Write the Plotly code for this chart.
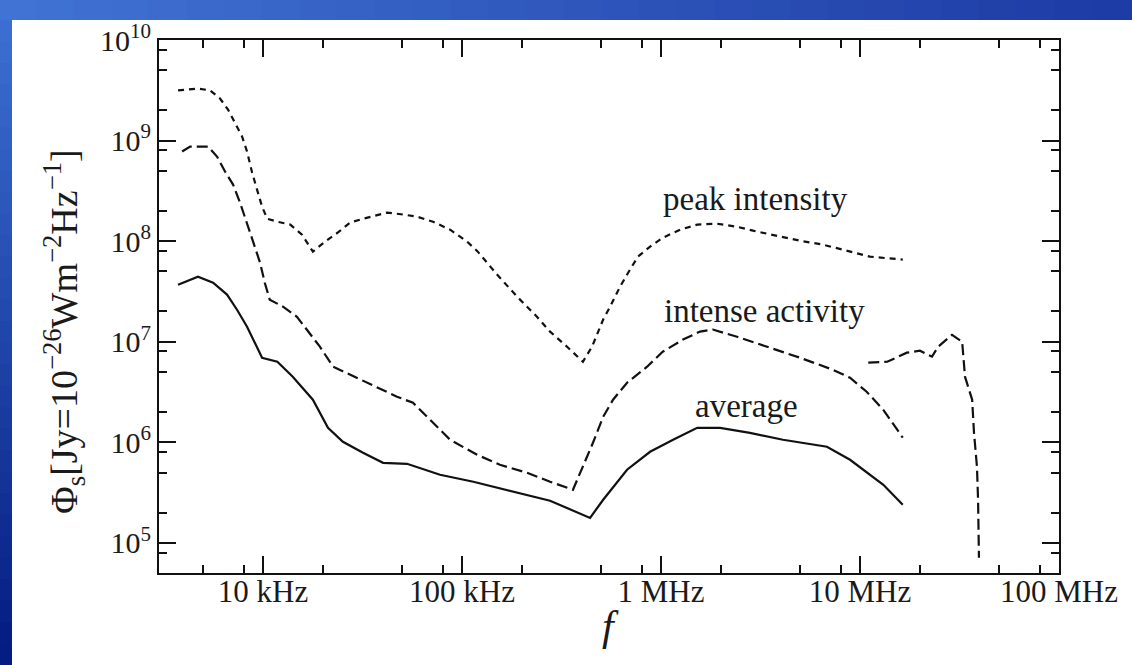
import numpy as np
import plotly.graph_objects as go

# ---------------- data (frequency in kHz, flux density) ----------------
peak_f = [3.74, 4.71, 5.42, 6.08, 6.67, 7.23, 7.84, 8.31, 8.81, 9.33, 9.89, 10.5, 11.8, 13.7,
          15.7, 17.8, 20.5, 23.8, 27.4, 31.8, 42.0, 50.5, 59.4, 71.5, 87.1, 106, 120, 150, 189,
          238, 277, 337, 405, 450, 512, 555, 622, 698, 766, 881, 1020, 1250, 1520, 1910, 2410,
          2900, 3830, 4990, 6510, 8610, 11200, 16400]
peak_v = [3.15e9, 3.29e9, 3.15e9, 2.62e9, 2.03e9, 1.51e9, 1.10e9, 7.78e8, 4.81e8, 3.25e8, 2.20e8,
          1.67e8, 1.56e8, 1.46e8, 1.16e8, 7.86e7, 9.89e7, 1.22e8, 1.53e8, 1.67e8, 1.92e8, 1.84e8,
          1.75e8, 1.56e8, 1.30e8, 9.89e7, 7.86e7, 4.65e7, 2.81e7, 1.77e7, 1.26e7, 8.92e6, 6.32e6,
          8.92e6, 1.66e7, 2.23e7, 3.52e7, 5.20e7, 7.01e7, 8.81e7, 1.08e8, 1.30e8, 1.46e8, 1.49e8,
          1.39e8, 1.27e8, 1.13e8, 1.01e8, 9.23e7, 8.04e7, 7.01e7, 6.55e7]

intense_f = [3.92, 4.30, 5.29, 5.87, 6.44, 7.07, 7.66, 8.31, 8.91, 9.66, 10.2, 10.8, 12.6, 14.8,
             16.6, 19.3, 22.5, 27.4, 37.4, 47.1, 56.7, 71.5, 87.1, 119, 155, 212, 277, 361, 405,
             455, 512, 574, 675, 851, 1020, 1290, 1570, 1820, 2410, 3410, 4990, 7310, 8910,
             10800, 13100, 16400]
intense_v = [7.78e8, 8.71e8, 8.71e8, 6.93e8, 4.92e8, 3.65e8, 2.42e8, 1.53e8, 9.89e7, 6.11e7,
             3.86e7, 2.62e7, 2.23e7, 1.77e7, 1.32e7, 8.92e6, 5.64e6, 4.70e6, 3.49e6, 2.84e6,
             2.47e6, 1.56e6, 1.06e6, 7.51e5, 5.97e5, 4.97e5, 4.05e5, 3.37e5, 5.70e5, 9.89e5,
             1.79e6, 2.65e6, 3.91e6, 5.64e6, 7.95e6, 1.05e7, 1.26e7, 1.32e7, 1.12e7, 8.92e6,
             6.93e6, 5.26e6, 4.38e6, 3.18e6, 2.10e6, 1.11e6]

dam_f = [11000, 13700, 17200, 20000, 23000, 24700, 29000, 32600, 33700, 36600, 37400, 38700,
         39200, 39600]
dam_v = [6.18e6, 6.32e6, 7.78e6, 8.14e6, 7.10e6, 8.92e6, 1.17e7, 1.0e7, 4.49e6, 2.65e6, 1.24e6,
         5.70e5, 2.68e5, 7.10e4]

avg_f = [3.74, 4.71, 5.61, 6.59, 7.40, 8.31, 9.89, 11.8, 14.1, 17.8, 21.2, 25.2, 31.8, 40.1, 52.9,
         77.5, 114, 168, 277, 440, 512, 675, 881, 1150, 1520, 1980, 2800, 4100, 6820, 8910,
         13100, 16400]
avg_v = [3.69e7, 4.43e7, 3.86e7, 2.94e7, 2.08e7, 1.41e7, 6.93e6, 6.32e6, 4.49e6, 2.65e6, 1.39e6,
         1.01e6, 7.86e5, 6.25e5, 6.11e5, 4.75e5, 4.05e5, 3.37e5, 2.62e5, 1.77e5, 2.68e5, 5.33e5,
         8.04e5, 1.06e6, 1.39e6, 1.39e6, 1.24e6, 1.06e6, 9.02e5, 6.70e5, 3.78e5, 2.39e5]

x_tickvals = [1e4, 1e5, 1e6, 1e7, 1e8]
x_ticktext = ["10 kHz", "100 kHz", "1 MHz", "10 MHz", "100 MHz"]
y_exponents = [5, 6, 7, 8, 9, 10]

labels = ["peak intensity", "intense activity", "average"]
x_title = "<i>f</i>"
y_title = "Φ<sub>s</sub>[Jy=10<sup>−26</sup>Wm<sup>−2</sup>Hz<sup>−1</sup>]"

# ---------------- figure ----------------
W, H = 1132, 665
ML, MR, MT, MB = 159, 73, 40, 92
pw, ph = W - ML - MR, H - MT - MB

def khz(a):
    return [v * 1e3 for v in a]

def px2paper_x(px):
    return (px - ML) / pw

def px2paper_y(py):
    return (H - MB - py) / ph

line_col = "#111111"
fig = go.Figure()
fig.add_trace(go.Scatter(x=khz(peak_f), y=peak_v, mode="lines",
                         line=dict(color=line_col, width=2.2, dash="6px,5px")))
fig.add_trace(go.Scatter(x=khz(intense_f), y=intense_v, mode="lines",
                         line=dict(color=line_col, width=2.2, dash="11px,5px")))
fig.add_trace(go.Scatter(x=khz(dam_f), y=dam_v, mode="lines",
                         line=dict(color=line_col, width=2.2, dash="11px,5px")))
fig.add_trace(go.Scatter(x=khz(avg_f), y=avg_v, mode="lines",
                         line=dict(color=line_col, width=2.2)))

# minor ticks at 2, 5, 8 of each decade
x_minor = [m * 10 ** d for d in range(3, 8) for m in (2, 5, 8)]
y_minor = [m * 10 ** d for d in range(4, 10) for m in (2, 5, 8)]

font_fam = "Liberation Serif, Times New Roman, serif"
txt_col = "#1a1a1a"

fig.update_xaxes(type="log", range=[np.log10(3000), 8.0], automargin=False,
                 tickmode="array", tickvals=x_tickvals, ticktext=x_ticktext,
                 ticks="inside", ticklen=17, tickwidth=2, tickcolor="#111",
                 showline=True, linecolor="#111", linewidth=2, mirror="allticks",
                 showgrid=False, zeroline=False, ticklabelstandoff=-10,
                 tickfont=dict(family=font_fam, size=31, color=txt_col),
                 minor=dict(tickvals=x_minor, ticks="inside", ticklen=8, tickwidth=2,
                            tickcolor="#111", showgrid=False))
fig.update_yaxes(type="log", range=[4.70, 10.0], automargin=False,
                 tickmode="array", tickvals=[10 ** e for e in y_exponents],
                 ticktext=[f"10<sup>{e}</sup>" for e in y_exponents],
                 ticks="inside", ticklen=17, tickwidth=2, tickcolor="#111",
                 showline=True, linecolor="#111", linewidth=2, mirror="allticks",
                 showgrid=False, zeroline=False,
                 tickfont=dict(family=font_fam, size=30, color=txt_col),
                 minor=dict(tickvals=y_minor, ticks="inside", ticklen=8, tickwidth=2,
                            tickcolor="#111", showgrid=False))

# axis titles as annotations for exact placement
fig.add_annotation(xref="paper", yref="paper", x=px2paper_x(610), y=px2paper_y(626),
                   text=x_title, showarrow=False, xanchor="center", yanchor="middle",
                   font=dict(family=font_fam, size=42, color=txt_col))
fig.add_annotation(xref="paper", yref="paper", x=px2paper_x(64), y=px2paper_y(332),
                   text=y_title, showarrow=False, xanchor="center", yanchor="middle",
                   textangle=-90, font=dict(family=font_fam, size=38, color=txt_col))

# curve labels (positions in log units)
ann_pos = [(2.97e6, 10 ** 8.42), (3.3e6, 10 ** 7.31), (2.7e6, 10 ** 6.36)]
for t, (ax, ay) in zip(labels, ann_pos):
    fig.add_annotation(x=np.log10(ax), y=np.log10(ay), text=t, showarrow=False,
                       font=dict(family=font_fam, size=33, color=txt_col))

# slide-style blue frame (gradient approximated by bands)
shapes = []
nb = 30
for i in range(nb):
    t = i / (nb - 1)
    r = int(60 + (5 - 60) * t); g = int(110 + (28 - 110) * t); b = int(210 + (130 - 210) * t)
    y0 = 20 + (H - 20) * i / nb
    y1 = 20 + (H - 20) * (i + 1) / nb + 1
    shapes.append(dict(type="rect", xref="paper", yref="paper", layer="below",
                       x0=px2paper_x(-2), x1=px2paper_x(12),
                       y0=px2paper_y(y1), y1=px2paper_y(y0),
                       fillcolor=f"rgb({r},{g},{b})", line=dict(width=0)))
for i in range(nb):
    t = i / (nb - 1)
    r = int(65 + (30 - 65) * t); g = int(115 + (60 - 115) * t); b = int(212 + (165 - 212) * t)
    x0 = W * i / nb - 2
    x1 = W * (i + 1) / nb + 1
    shapes.append(dict(type="rect", xref="paper", yref="paper", layer="below",
                       x0=px2paper_x(x0), x1=px2paper_x(x1),
                       y0=px2paper_y(20), y1=px2paper_y(-2),
                       fillcolor=f"rgb({r},{g},{b})", line=dict(width=0)))

fig.update_layout(width=W, height=H, margin=dict(l=ML, r=MR, t=MT, b=MB, pad=0),
                  paper_bgcolor="white", plot_bgcolor="white", showlegend=False,
                  shapes=shapes)

fig.write_html("out.html", config={"displayModeBar": False},
               post_script="document.body.style.margin='0px';document.body.style.padding='0px';")
